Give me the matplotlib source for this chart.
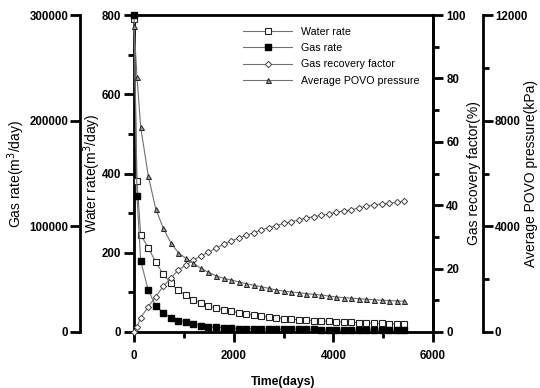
import matplotlib
matplotlib.use('Agg')
import matplotlib.pyplot as plt
from matplotlib.ticker import MultipleLocator

plt.rcParams['font.family'] = ['Liberation Sans', 'DejaVu Sans']

# time (days)
time_days = [0, 60, 135, 286, 437, 588, 739, 890, 1041, 1192, 1343, 1494, 1645,
             1796, 1947, 2098, 2249, 2400, 2551, 2702, 2853, 3004, 3155, 3306,
             3457, 3608, 3759, 3910, 4061, 4212, 4363, 4514, 4665, 4816, 4967,
             5118, 5269, 5420]

water_rate = [790, 381, 245, 213, 176, 146, 123, 105, 93, 82, 73, 66, 61, 56, 52,
              49, 46, 43, 40, 38, 36, 34, 32.5, 31, 30, 29, 28, 27, 26, 25, 24,
              23.5, 23, 22, 21.5, 21, 20.5, 20]

gas_rate = [300000, 128700, 67000, 39700, 24600, 18300, 13500, 10700, 9200, 7600,
            6000, 5000, 4500, 4100, 3600, 3300, 3100, 2950, 2850, 2750, 2650,
            2600, 2550, 2500, 2450, 2400, 2350, 2300, 2250, 2200, 2150, 2100,
            2100, 2050, 2000, 2000, 1950, 1900]

recovery = [0, 1.7, 4.5, 8.0, 11.1, 14.5, 16.9, 19.6, 21.1, 22.7, 24.0, 25.2, 26.4,
            27.7, 28.7, 29.6, 30.5, 31.3, 32.2, 32.9, 33.5, 34.3, 34.8, 35.3,
            36.0, 36.4, 36.8, 37.2, 37.8, 38.2, 38.5, 39.2, 39.7, 40.1, 40.4,
            40.6, 40.9, 41.3]

pressure = [11600, 9650, 7750, 5915, 4655, 3925, 3380, 3000, 2790, 2600, 2410,
            2260, 2130, 2030, 1970, 1900, 1830, 1770, 1715, 1655, 1590, 1550,
            1515, 1490, 1450, 1425, 1400, 1360, 1325, 1300, 1280, 1260, 1240,
            1220, 1200, 1190, 1175, 1160]

SPINE_W = 2.0
TICK_FS = 8.3
LABEL_FS = 10
LINE_C = '#707070'

fig = plt.figure(figsize=(5.4, 3.88), dpi=100)
ax = fig.add_axes([134 / 540, 1 - 332 / 388, 299 / 540, 317 / 388])
ax_g = ax.twinx()
ax_r = ax.twinx()
ax_p = ax.twinx()


def style_ticks(a, axis='y'):
    a.tick_params(axis=axis, which='major', direction='out', length=7,
                  width=SPINE_W, labelsize=TICK_FS)
    a.tick_params(axis=axis, which='minor', direction='out', length=4,
                  width=SPINE_W)
    lab = a.get_yticklabels() if axis == 'y' else a.get_xticklabels()
    for t in lab:
        t.set_fontweight('bold')


# main axes: water rate + time
for s in ['left', 'bottom', 'top', 'right']:
    ax.spines[s].set_linewidth(SPINE_W)
ax.set_xlim(0, 6000)
ax.set_ylim(0, 800)
ax.xaxis.set_major_locator(MultipleLocator(2000))
ax.xaxis.set_minor_locator(MultipleLocator(1000))
ax.yaxis.set_major_locator(MultipleLocator(200))
ax.yaxis.set_minor_locator(MultipleLocator(100))
style_ticks(ax, 'y')
style_ticks(ax, 'x')
ax.tick_params(axis='x', which='major', pad=6)
ax.tick_params(axis='y', which='major', pad=2.5)
ax.set_xlabel('Time(days)', fontsize=8.8, fontweight='bold', labelpad=10)
ax.set_ylabel('Water rate(m$^3$/day)', fontsize=LABEL_FS, labelpad=-1.2)

l_w, = ax.plot(time_days, water_rate, color=LINE_C, lw=0.8, marker='s', ms=4.8,
               mfc='white', mec='#222222', mew=0.8, clip_on=False,
               label='Water rate', zorder=3)

# gas rate axis on far left
for s in ['right', 'top', 'bottom']:
    ax_g.spines[s].set_visible(False)
ax_g.spines['left'].set_position(('axes', -54 / 299))
ax_g.spines['left'].set_linewidth(SPINE_W)
ax_g.yaxis.set_ticks_position('left')
ax_g.yaxis.set_label_position('left')
ax_g.set_ylim(0, 300000)
ax_g.yaxis.set_major_locator(MultipleLocator(100000))
style_ticks(ax_g, 'y')
ax_g.tick_params(axis='y', which='major', pad=1.5)
ax_g.set_ylabel('Gas rate(m$^3$/day)', fontsize=LABEL_FS, labelpad=1.5)
l_g, = ax_g.plot(time_days, gas_rate, color=LINE_C, lw=0.8, marker='s', ms=4.8,
                 mfc='black', mec='black', clip_on=False, label='Gas rate',
                 zorder=3)

# gas recovery factor on right
for s in ['left', 'top', 'bottom']:
    ax_r.spines[s].set_visible(False)
ax_r.spines['right'].set_linewidth(SPINE_W)
ax_r.set_ylim(0, 100)
ax_r.yaxis.set_major_locator(MultipleLocator(20))
ax_r.yaxis.set_minor_locator(MultipleLocator(10))
style_ticks(ax_r, 'y')
ax_r.tick_params(axis='y', which='major', pad=2.5)
ax_r.set_ylabel('Gas recovery factor(%)', fontsize=LABEL_FS, labelpad=1)
l_r, = ax_r.plot(time_days, recovery, color=LINE_C, lw=0.8, marker='D', ms=3.2,
                 mfc='white', mec='#444444', mew=0.7, clip_on=False,
                 label='Gas recovery factor', zorder=3)

# average pressure on far right
for s in ['left', 'top', 'bottom']:
    ax_p.spines[s].set_visible(False)
ax_p.spines['right'].set_position(('axes', 349 / 299))
ax_p.spines['right'].set_linewidth(SPINE_W)
ax_p.set_ylim(0, 12000)
ax_p.yaxis.set_major_locator(MultipleLocator(4000))
ax_p.yaxis.set_minor_locator(MultipleLocator(2000))
style_ticks(ax_p, 'y')
ax_p.tick_params(axis='y', which='major', pad=1.5)
ax_p.set_ylabel('Average POVO pressure(kPa)', fontsize=LABEL_FS, labelpad=-2.5)
l_p, = ax_p.plot(time_days, pressure, color=LINE_C, lw=0.8, marker='^', ms=3.6,
                 mfc='#9a9a9a', mec='#222222', mew=0.7, clip_on=False,
                 label='Average POVO pressure', zorder=3)

ax_p.legend(handles=[l_w, l_g, l_r, l_p], loc='upper left',
            bbox_to_anchor=(243 / 540, 1 - 27 / 388),
            bbox_transform=fig.transFigure, frameon=False, fontsize=7.7,
            handlelength=4.6, handletextpad=0.8, labelspacing=0.58,
            borderpad=0, borderaxespad=0, numpoints=1)

fig.savefig('out.png', dpi=100)
